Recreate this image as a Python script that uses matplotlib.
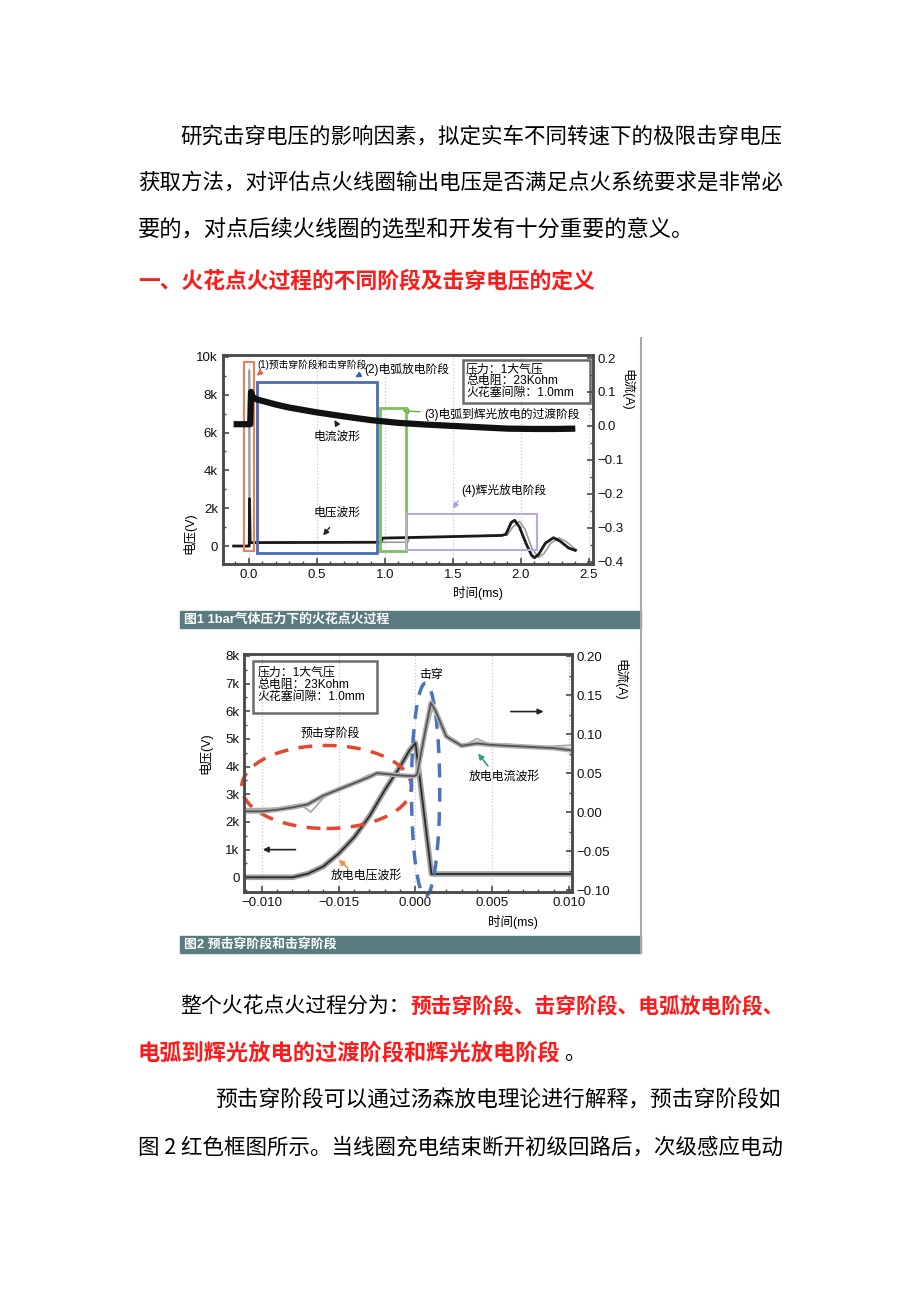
import matplotlib as mpl
mpl.use('Agg')
import matplotlib.pyplot as plt
from matplotlib.patches import Rectangle, Ellipse
from matplotlib.lines import Line2D
from matplotlib.ticker import MultipleLocator

plt.rcParams['font.family'] = ['Liberation Sans', 'Noto Sans CJK SC', 'DejaVu Sans']
CJK = ['Noto Sans CJK SC', 'DejaVu Sans']

# ---- page text ----
para1 = ['研究击穿电压的影响因素，拟定实车不同转速下的极限击穿电压',
         '获取方法，对评估点火线圈输出电压是否满足点火系统要求是非常必',
         '要的，对点后续火线圈的选型和开发有十分重要的意义。']
heading = '一、火花点火过程的不同阶段及击穿电压的定义'
para2_a = ['整个火花点火过程分为：', '预击穿阶段、击穿阶段、电弧放电阶段、']
para2_b = ['电弧到辉光放电的过渡阶段和辉光放电阶段', '。']
para3 = ['预击穿阶段可以通过汤森放电理论进行解释，预击穿阶段如',
         '图 2 红色框图所示。当线圈充电结束断开初级回路后，次级感应电动']
caption1 = '图1 1bar气体压力下的火花点火过程'
caption2 = '图2 预击穿阶段和击穿阶段'
info = ['压力：1大气压', '总电阻：23Kohm', '火花塞间隙：1.0mm']

# ---- figure 1 data (time ms) ----
f1_xticks = [0.0, 0.5, 1.0, 1.5, 2.0, 2.5]
f1_xlabels = ['0.0', '0.5', '1.0', '1.5', '2.0', '2.5']
f1_vticks = [0, 2000, 4000, 6000, 8000, 10000]
f1_vlabels = ['0', '2k', '4k', '6k', '8k', '10k']
f1_iticks = [-0.4, -0.3, -0.2, -0.1, 0.0, 0.1, 0.2]
f1_ilabels = ['\u22120.4', '\u22120.3', '\u22120.2', '\u22120.1', '0.0', '0.1', '0.2']

f1_t_cur = [-0.11, 0.0, 0.012, 0.018, 0.03, 0.06, 0.1, 0.2, 0.3, 0.5, 0.7, 0.9,
            1.1, 1.3, 1.5, 1.7, 1.9, 2.1, 2.25, 2.4]
f1_cur = [0.005, 0.005, 0.005, 0.10, 0.085, 0.078, 0.074, 0.063, 0.054, 0.040, 0.028, 0.017,
          0.009, 0.004, 0.0, -0.004, -0.008, -0.009, -0.009, -0.008]

f1_t_v = [-0.11, 0.005, 0.007, 0.012, 0.5, 0.97, 0.985, 1.5, 1.86, 1.89, 1.93, 1.955,
          1.99, 2.04, 2.08, 2.10, 2.13, 2.18, 2.24, 2.29, 2.35, 2.40]
f1_v = [0, 0, 2500, 180, 190, 200, 420, 500, 560, 620, 1250, 1360,
        1000, 100, -500, -620, -450, 150, 440, 250, -100, -230]
f1_t_v2 = [0.004, 0.006, 0.010, 0.98, 1.17, 1.18, 1.5, 1.90, 1.94, 1.99, 2.03, 2.08,
           2.13, 2.17, 2.22, 2.28, 2.33, 2.39, 2.41]
f1_v2 = [0, 9300, 200, 200, 200, 420, 500, 580, 1000, 1300, 900, -100,
         -600, -400, 150, 430, 250, -100, -200]

# ---- figure 2 data (time ms) ----
f2_xticks = [-0.010, -0.005, 0.0, 0.005, 0.010]
f2_xlabels = ['\u22120.010', '\u22120.015', '0.000', '0.005', '0.010']
f2_vticks = [0, 1000, 2000, 3000, 4000, 5000, 6000, 7000, 8000]
f2_vlabels = ['0', '1k', '2k', '3k', '4k', '5k', '6k', '7k', '8k']
f2_iticks = [-0.10, -0.05, 0.0, 0.05, 0.10, 0.15, 0.20]
f2_ilabels = ['\u22120.10', '\u22120.05', '0.00', '0.05', '0.10', '0.15', '0.20']

f2_t_v = [-0.0111, -0.0080, -0.0070, -0.0060, -0.0050, -0.0040, -0.0030, -0.0020,
          -0.0010, -0.0004, 0.0, 0.00104, 0.0102]
f2_v = [0, 0, 130, 390, 850, 1440, 2200, 3150, 4000, 4580, 4850, 120, 120]

f2_t_i = [-0.0111, -0.0100, -0.0090, -0.0080, -0.0070, -0.0060, -0.0050, -0.0040,
          -0.0030, -0.0025, -0.0020, -0.0010, -0.0001, 0.0001, 0.0006, 0.0010, 0.0013,
          0.0020, 0.0030, 0.0040, 0.0050, 0.0060, 0.0070, 0.0080, 0.0090, 0.0102]
f2_i = [0.001, 0.001, 0.003, 0.006, 0.010, 0.021, 0.029, 0.037,
        0.045, 0.050, 0.049, 0.047, 0.046, 0.048, 0.100, 0.140, 0.130,
        0.097, 0.085, 0.088, 0.086, 0.085, 0.084, 0.083, 0.082, 0.079]
f2_t_i2 = [-0.0111, -0.0090, -0.0075, -0.0068, -0.0060, -0.0050, -0.0040, -0.0030,
           -0.0020, -0.0005, 0.0001, 0.0006, 0.0011, 0.0016, 0.0022, 0.0030, 0.0040,
           0.0048, 0.0060, 0.0080, 0.0102]
f2_i2 = [0.004, 0.005, 0.010, 0.000, 0.018, 0.031, 0.038, 0.048,
         0.048, 0.046, 0.046, 0.095, 0.132, 0.120, 0.092, 0.084, 0.094,
         0.087, 0.087, 0.083, 0.086]

W, H = 920, 1302
fig = plt.figure(figsize=(9.2, 13.02), dpi=100)
fig.patch.set_facecolor('white')
renderer = fig.canvas.get_renderer()


def fx(px):
    return px / W


def fy(py):
    return 1 - py / H


def put(s, x0, x1, y, color='black', weight='normal', size=None):
    t = fig.text(fx(x0), fy(y), s, ha='left', va='center', fontsize=15,
                 color=color, weight=weight, family=CJK)
    if size:
        t.set_fontsize(size)
    else:
        w = t.get_window_extent(renderer).width
        t.set_fontsize(15 * (x1 - x0) / w)
    return t


def axes_px(left, top, right, bottom):
    return fig.add_axes([fx(left), fy(bottom), (right - left) / W, (bottom - top) / H])


def style(ax):
    for s in ax.spines.values():
        s.set_color('#4a4a4a')
        s.set_linewidth(1.8)
    ax.tick_params(which='both', direction='in', color='#4a4a4a', labelsize=9.5,
                   labelcolor='#111111')
    ax.tick_params(which='major', length=4, width=1.2)
    ax.tick_params(which='minor', length=2.5, width=1.0)


# body text
put(para1[0], 180, 783, 137)
put(para1[1], 138, 783, 183)
put(para1[2], 138, 697, 230)
put(heading, 138, 597, 281, color='#ff1a1a', weight='bold')
put(para2_a[0], 180, 410, 1006)
put(para2_a[1], 410, 785, 1006, color='#ff1a1a', weight='bold')
put(para2_b[0], 138, 561, 1053, color='#ff1a1a', weight='bold')
put(para2_b[1], 564, 584, 1053, size=15)
put(para3[0], 215, 783, 1100)
put(para3[1], 138, 783, 1147)

# ---------------- figure 1 ----------------
ax1 = axes_px(222.7, 355, 593, 564)
ax1r = ax1.twinx()
ax1.set_xlim(-0.19, 2.53)
ax1.set_ylim(-950, 10100)
ax1r.set_ylim(-0.407, 0.209)
ax1.set_xticks(f1_xticks, f1_xlabels)
ax1.set_yticks(f1_vticks, f1_vlabels)
ax1r.set_yticks(f1_iticks, f1_ilabels)
ax1.xaxis.set_minor_locator(MultipleLocator(0.1))
ax1.yaxis.set_minor_locator(MultipleLocator(1000))
ax1r.yaxis.set_minor_locator(MultipleLocator(0.05))
style(ax1)
style(ax1r)
ax1.grid(axis='x', ls=':', color='#c8c8c8', lw=0.9)

ax1.plot(f1_t_v2, f1_v2, color='#9a9a9a', lw=1.2)
ax1.plot(f1_t_v, f1_v, color='#1a1a1a', lw=2)
ax1r.plot(f1_t_cur, f1_cur, color='#111111', lw=4.5, solid_capstyle='butt')

boxes = [(-0.035, -265, 0.037, 9730, '#e8805a', 1.5),
         (0.061, -350, 0.943, 8680, '#4a6cb8', 2.0),
         (0.968, -280, 1.16, 7300, '#7cc05c', 2.0),
         (1.16, -190, 2.12, 1710, '#b9a9dc', 1.5)]
for x0, y0, x1, y1, c, lw in boxes:
    ax1.add_patch(Rectangle((x0, y0), x1 - x0, y1 - y0, fill=False, ec=c, lw=lw,
                            clip_on=False, zorder=5))

ax1.text(0.066, 9560, '(1)预击穿阶段和击穿阶段', fontsize=7, va='center', ha='left')
ax1.text(0.853, 9350, '(2)电弧放电阶段', fontsize=8.5, va='center', ha='left')
ax1.text(1.294, 6967, '(3)电弧到辉光放电的过渡阶段', fontsize=8.5, va='center', ha='left')
ax1.text(0.651, 5800, '电流波形', fontsize=8.5, va='center', ha='center')
ax1.text(0.651, 1745, '电压波形', fontsize=8.5, va='center', ha='center')
ax1.text(1.564, 2946, '(4)辉光放电阶段', fontsize=8.5, va='center', ha='left')

arrows1 = [((0.10, 9250), (0.045, 8900), '#e06040'),
           ((0.84, 9150), (0.765, 8850), '#3a5cb0'),
           ((1.28, 7100), (1.11, 7140), '#5cb040'),
           ((0.66, 6300), (0.62, 6790), '#222222'),
           ((0.608, 1095), (0.535, 444), '#222222'),
           ((1.55, 2500), (1.49, 1850), '#b0a0d8')]
for xt, xy, c in arrows1:
    ax1.annotate('', xy=xy, xytext=xt,
                 arrowprops=dict(arrowstyle='-|>', color=c, lw=1, mutation_scale=8))

ax1.add_patch(Rectangle((0.648, 0.769), 0.344, 0.207, transform=ax1.transAxes,
                        fill=False, ec='#6a6a6a', lw=1.8, zorder=5))
for txt, yy in zip(info, [0.931, 0.876, 0.817]):
    ax1.text(0.657, yy, txt, transform=ax1.transAxes, fontsize=8.6, va='center')

fig.text(fx(189), fy(533), '电压(V)', rotation=90, ha='center', va='center', fontsize=9)
fig.text(fx(627), fy(390), '电流(A)', rotation=270, ha='center', va='center', fontsize=9)
fig.text(fx(478), fy(593), '时间(ms)', ha='center', va='center', fontsize=9)

# ---------------- figure 2 ----------------
ax2 = axes_px(244.3, 654, 571.7, 891.7)
ax2r = ax2.twinx()
ax2.set_xlim(-0.01113, 0.01016)
ax2.set_ylim(-520, 8070)
ax2r.set_ylim(-0.102, 0.2026)
ax2.set_xticks(f2_xticks, f2_xlabels)
ax2.set_yticks(f2_vticks, f2_vlabels)
ax2r.set_yticks(f2_iticks, f2_ilabels)
ax2.xaxis.set_minor_locator(MultipleLocator(0.001))
ax2.yaxis.set_minor_locator(MultipleLocator(500))
ax2r.yaxis.set_minor_locator(MultipleLocator(0.025))
style(ax2)
style(ax2r)
ax2.grid(axis='x', ls=':', color='#c8c8c8', lw=0.9)

ax2r.plot(f2_t_i2, f2_i2, color='#aaaaaa', lw=1.3)
ax2r.plot(f2_t_i, f2_i, color='#b0b0b0', lw=3.5)
ax2r.plot(f2_t_i, f2_i, color='#555555', lw=1.3)
ax2.plot(f2_t_v, f2_v, color='#a0a0a0', lw=4)
ax2.plot(f2_t_v, f2_v, color='#2a2a2a', lw=1.3)

ax2.add_patch(Ellipse((-0.00578, 3264), 0.01104, 3000, fill=False, ec='#e2472f',
                      lw=2.5, ls=(0, (4, 3)), clip_on=False, zorder=5))
ax2.add_patch(Ellipse((0.00066, 3170), 0.00184, 7700, fill=False, ec='#4a74c0',
                      lw=2.5, ls=(0, (4, 3)), clip_on=False, zorder=5))

ax2.add_patch(Rectangle((0.0275, 0.753), 0.377, 0.219, transform=ax2.transAxes,
                        fill=False, ec='#6a6a6a', lw=1.8, zorder=5))
for txt, yy in zip(info, [0.923, 0.870, 0.820]):
    ax2.text(0.041, yy, txt, transform=ax2.transAxes, fontsize=8.6, va='center')

ax2.text(0.00104, 7300, '击穿', fontsize=8.6, ha='center', va='center')
ax2.text(-0.00552, 5180, '预击穿阶段', fontsize=8.6, ha='center', va='center')
ax2.text(0.0058, 3650, '放电电流波形', fontsize=8.6, ha='center', va='center')
ax2.text(-0.00318, 60, '放电电压波形', fontsize=8.6, ha='center', va='center')

arrows2 = [((0.00482, 3950), (0.00396, 4550), '#2aa080'),
           ((-0.00427, 280), (-0.00513, 700), '#f09040'),
           ((-0.00762, 1000), (-0.01011, 1000), '#222222'),
           ((0.00602, 5990), (0.00851, 5990), '#222222')]
for xt, xy, c in arrows2:
    ax2.annotate('', xy=xy, xytext=xt,
                 arrowprops=dict(arrowstyle='-|>', color=c, lw=1.2, mutation_scale=8))

fig.text(fx(205), fy(753), '电压(V)', rotation=90, ha='center', va='center', fontsize=9)
fig.text(fx(620), fy(680), '电流(A)', rotation=270, ha='center', va='center', fontsize=9)
fig.text(fx(513), fy(922), '时间(ms)', ha='center', va='center', fontsize=9)

# caption bars and image frame line
for top, cap in [(611, caption1), (936, caption2)]:
    fig.patches.append(Rectangle((fx(180), fy(top + 17)), (641 - 180) / W, 17 / H,
                                 transform=fig.transFigure, color='#5a7b80'))
    fig.text(fx(184), fy(top + 8.5), cap, color='white', weight='bold', fontsize=9.3,
             ha='left', va='center')
fig.add_artist(Line2D([fx(641), fx(641)], [fy(338), fy(953)], color='#a8a8a8', lw=1.5))

fig.savefig('out.png', dpi=100)
